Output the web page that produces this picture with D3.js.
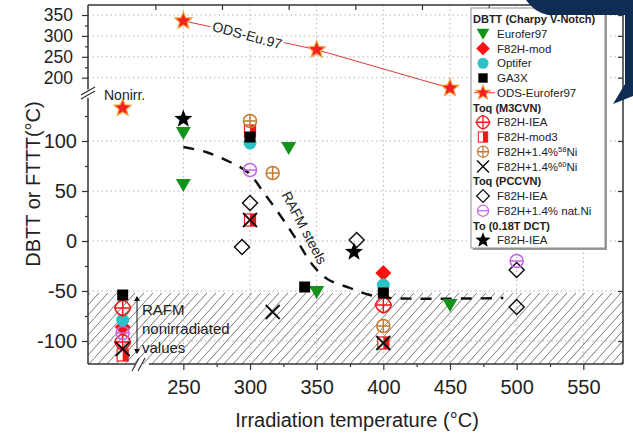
<html>
<head>
<script src="https://d3js.org/d3.v7.min.js"></script>
<style>
  body { margin: 0; background: #fff; }
  text { font-family: "Liberation Sans", Arial, sans-serif; fill: #222; }
</style>
</head>
<body>
<div id="vis"></div>
<script>
// ---- data ----
// "N" = nonirradiated column left of the axis break
const NONIRR_POS = 204.5;

const euroferT = [250, 250, 329, 350, 450];
const euroferV = [108, 56, 93, -51, -64];

const f82modT = [400, "N"];
const f82modV = [-32, -86];

const optiferT = [300, 400, "N"];
const optiferV = [98, -44, -79];

const ga3xT = [300, 341, 400, "N"];
const ga3xV = [104, -46, -52, -54];

const odsT = [250, 350, 450];          // upper part of the broken axis
const odsV = [336, 267, 175];
const odsNonirr = 133;

const ieaM3T = [400, "N", "N"];
const ieaM3V = [-64, -67, -101];

const mod3T = [300, 300, 400, "N"];
const mod3V = [110, 21, -102, -114];

const ni58T = [300, 317, 400];
const ni58V = [120, 68, -85];

const ni60T = [300, 317, 400, "N"];
const ni60V = [21, -71, -102, -108];

const ieaPcT = [300, 294, 380, 500, 500];
const ieaPcV = [38, -6, 1, -29, -66];

const natNiT = [300, 500, "N"];
const natNiV = [71, -20, -92];

const toT = [250, 378];
const toV = [122, -11];

// RAFM steels trend (dashed)
const curveT = [250, 267, 285, 299, 310, 323, 335, 347, 358, 375, 390, 405, 490];
const curveV = [94, 89, 79, 68, 49, 25, 1, -24, -38, -47, -54, -57, -57];

const hatchTop = -52;

const xTicks = [250, 300, 350, 400, 450, 500, 550];
const xMinor = [275, 325, 375, 425, 475, 525];
const topTicks = [229, 279, 329, 379, 429, 479, 529];
const yLoTicks = [-100, -50, 0, 50, 100];
const yLoMinor = [-75, -25, 25, 75, 125];
const yHiTicks = [200, 250, 300, 350];
const yHiMinor = [225, 275, 325];

// ---- layout ----
const L = 88, R = 623, T = 5, B = 364;

const svg = d3.select("#vis").append("svg")
  .attr("width", 633).attr("height", 433);

const x = d3.scaleLinear().domain([178.5, 579.75]).range([L, R]);
const yLo = d3.scaleLinear().domain([-123, 143]).range([B, 98]);
const yHi = d3.scaleLinear().domain([172, 374]).range([89.4, T]);
const yPos = v => v >= 160 ? yHi(v) : yLo(v);
const xPos = t => t === "N" ? x(NONIRR_POS) : x(t);
const plain = d => String(d);   // hyphen-minus like the original

// hatched band (below the nonirradiated level)
const hTop = yLo(hatchTop), hH = B - hTop;
svg.append("defs").append("clipPath").attr("id", "hclip")
  .append("rect").attr("x", L).attr("y", hTop).attr("width", R - L).attr("height", hH);
const hatch = svg.append("g").attr("clip-path", "url(#hclip)")
  .attr("stroke", "#6a6a6a").attr("stroke-width", 0.9);
d3.range(L - hH, R, 9).forEach(x0 => hatch.append("line")
  .attr("x1", x0).attr("y1", B).attr("x2", x0 + hH * 0.9).attr("y2", hTop));

// grid
const grid = svg.append("g").attr("stroke", "#b5b5b5").attr("stroke-width", 1)
  .attr("stroke-dasharray", "1.5,3");
xTicks.forEach(t => grid.append("line")
  .attr("x1", x(t)).attr("x2", x(t)).attr("y1", T).attr("y2", B));
yLoTicks.forEach(v => grid.append("line")
  .attr("x1", L).attr("x2", R).attr("y1", yLo(v)).attr("y2", yLo(v)));
yHiTicks.forEach(v => grid.append("line")
  .attr("x1", L).attr("x2", R).attr("y1", yHi(v)).attr("y2", yHi(v)));

// axes
function styleAxis(g, fs) {
  g.select(".domain").remove();
  g.selectAll(".tick line").attr("stroke", "#333").attr("stroke-width", 1.2);
  g.selectAll("text").style("font-size", fs + "px").attr("fill", "#222")
    .style("font-family", "'Liberation Sans', Arial, sans-serif");
}

svg.append("g").attr("transform", "translate(0," + B + ")")
  .call(d3.axisBottom(x).tickValues(xTicks).tickSize(6).tickPadding(10).tickFormat(plain))
  .call(g => styleAxis(g, 20));
svg.append("g").attr("transform", "translate(0," + B + ")")
  .call(d3.axisBottom(x).tickValues(xMinor).tickSize(3).tickFormat(""))
  .call(g => styleAxis(g, 10));
svg.append("g").attr("transform", "translate(0," + T + ")")
  .call(d3.axisBottom(x).tickValues(topTicks).tickSize(5).tickFormat(""))
  .call(g => styleAxis(g, 10));

svg.append("g").attr("transform", "translate(" + L + ",0)")
  .call(d3.axisLeft(yLo).tickValues(yLoTicks).tickSize(6).tickPadding(5).tickFormat(plain))
  .call(g => styleAxis(g, 20));
svg.append("g").attr("transform", "translate(" + L + ",0)")
  .call(d3.axisLeft(yLo).tickValues(yLoMinor).tickSize(3).tickFormat(""))
  .call(g => styleAxis(g, 10));
svg.append("g").attr("transform", "translate(" + L + ",0)")
  .call(d3.axisLeft(yHi).tickValues(yHiTicks).tickSize(6).tickPadding(9).tickFormat(plain))
  .call(g => styleAxis(g, 17.5));
svg.append("g").attr("transform", "translate(" + L + ",0)")
  .call(d3.axisLeft(yHi).tickValues(yHiMinor).tickSize(3).tickFormat(""))
  .call(g => styleAxis(g, 10));
svg.append("g").attr("transform", "translate(" + R + ",0)")
  .call(d3.axisLeft(yLo).tickValues(yLoTicks).tickSize(5).tickFormat(""))
  .call(g => styleAxis(g, 10));
svg.append("g").attr("transform", "translate(" + R + ",0)")
  .call(d3.axisLeft(yHi).tickValues(yHiTicks).tickSize(5).tickFormat(""))
  .call(g => styleAxis(g, 10));

// frame lines with breaks
const frame = svg.append("g").attr("stroke", "#333").attr("stroke-width", 1.5).attr("fill", "none");
frame.append("line").attr("x1", L).attr("x2", R).attr("y1", T).attr("y2", T);
frame.append("line").attr("x1", R).attr("x2", R).attr("y1", T).attr("y2", B);
frame.append("line").attr("x1", L).attr("x2", L).attr("y1", T).attr("y2", yHi(172));
frame.append("line").attr("x1", L).attr("x2", L).attr("y1", yLo(143)).attr("y2", B);
frame.append("line").attr("x1", L).attr("x2", 135).attr("y1", B).attr("y2", B);
frame.append("line").attr("x1", 149).attr("x2", R).attr("y1", B).attr("y2", B);
// break marks
frame.append("path").attr("d", "M81,95 L95,87 M81,99 L95,91").attr("stroke-width", 1.2);
frame.append("path").attr("d", "M132,371 L139,358 M138,371 L145,358").attr("stroke-width", 1.2);

// RAFM steels trend
svg.append("path")
  .datum(curveT.map((t, i) => [t, curveV[i]]))
  .attr("d", d3.line().x(d => x(d[0])).y(d => yLo(d[1])).curve(d3.curveCatmullRom))
  .attr("fill", "none").attr("stroke", "#111").attr("stroke-width", 2.4)
  .attr("stroke-dasharray", "11,9");

svg.append("text")
  .attr("transform", "translate(300,230) rotate(62)")
  .attr("text-anchor", "middle")
  .style("font-size", "14px").text("RAFM steels");

// ODS line in the upper part
svg.append("path")
  .datum(odsT.map((t, i) => [t, odsV[i]]))
  .attr("d", d3.line().x(d => x(d[0])).y(d => yHi(d[1])))
  .attr("fill", "none").attr("stroke", "#e03a3a").attr("stroke-width", 1);

svg.append("text")
  .attr("transform", "translate(246,40) rotate(15)")
  .attr("text-anchor", "middle")
  .attr("stroke", "#fff").attr("stroke-width", 5).attr("paint-order", "stroke")
  .style("font-size", "14px").text("ODS-Eu.97");

// ---- markers ----
function starPath(ro, ri) {
  const p = [];
  for (let i = 0; i < 10; i++) {
    const a = -Math.PI / 2 + i * Math.PI / 5, r = i % 2 ? ri : ro;
    p.push([r * Math.cos(a), r * Math.sin(a)]);
  }
  return "M" + p.map(d => d.join(",")).join("L") + "Z";
}

function marker(g, type, cx, cy) {
  const m = g.append("g").attr("transform", "translate(" + cx + "," + cy + ")");
  if (type === "tri") {
    m.append("path").attr("d", "M-7.5,-6 L7.5,-6 L0,7 Z").attr("fill", "#13931a");
  } else if (type === "dia") {
    m.append("path").attr("d", "M0,-8 L8,0 L0,8 L-8,0 Z").attr("fill", "#ff1010");
  } else if (type === "circ") {
    m.append("circle").attr("r", 6.5).attr("fill", "#2cc3c6");
  } else if (type === "sq") {
    m.append("rect").attr("x", -5.5).attr("y", -5.5).attr("width", 11).attr("height", 11).attr("fill", "#000");
  } else if (type === "ods") {
    m.append("path").attr("d", starPath(9, 4)).attr("fill", "#f22020")
      .attr("stroke", "#f3a33a").attr("stroke-width", 1.2);
  } else if (type === "iea") {
    m.append("path").attr("d", "M0,-8 Q6,-6 8,0 Q6,6 0,8 Q-6,6 -8,0 Q-6,-6 0,-8 Z")
      .attr("fill", "none").attr("stroke", "#f01818").attr("stroke-width", 1.5);
    m.append("path").attr("d", "M-8,0 L8,0 M0,-8 L0,8").attr("stroke", "#f01818").attr("stroke-width", 1.5);
  } else if (type === "mod3") {
    m.append("rect").attr("x", -5.5).attr("y", -6).attr("width", 11).attr("height", 12)
      .attr("fill", "#fff").attr("stroke", "#f01818").attr("stroke-width", 1.2);
    m.append("rect").attr("x", 0).attr("y", -6).attr("width", 5.5).attr("height", 12).attr("fill", "#f01818");
  } else if (type === "ni58") {
    m.append("circle").attr("r", 6.5).attr("fill", "none").attr("stroke", "#c47a30").attr("stroke-width", 1.5);
    m.append("path").attr("d", "M-6.5,0 L6.5,0 M0,-6.5 L0,6.5").attr("stroke", "#c47a30").attr("stroke-width", 1.5);
  } else if (type === "ni60") {
    m.append("path").attr("d", "M-7,-7 L7,7 M-7,7 L7,-7").attr("stroke", "#111").attr("stroke-width", 1.8);
  } else if (type === "pdia") {
    m.append("path").attr("d", "M0,-7.5 L7.5,0 L0,7.5 L-7.5,0 Z")
      .attr("fill", "none").attr("stroke", "#111").attr("stroke-width", 1.5);
  } else if (type === "natni") {
    m.append("circle").attr("r", 6.5).attr("fill", "none").attr("stroke", "#c463e6").attr("stroke-width", 1.5);
    m.append("path").attr("d", "M-6.5,0 L6.5,0").attr("stroke", "#c463e6").attr("stroke-width", 1.5);
  } else if (type === "star") {
    m.append("path").attr("d", starPath(9.5, 4)).attr("fill", "#000");
  }
  return m;
}

const pts = svg.append("g");
function series(type, ts, vs) {
  ts.forEach((t, i) => marker(pts, type, xPos(t), yPos(vs[i])));
}
series("tri", euroferT, euroferV);
series("dia", f82modT, f82modV);
series("circ", optiferT, optiferV);
series("ods", odsT, odsV);
series("ods", ["N"], [odsNonirr]);
series("iea", ieaM3T, ieaM3V);
series("mod3", mod3T, mod3V);
series("sq", ga3xT, ga3xV);
series("ni58", ni58T, ni58V);
series("ni60", ni60T, ni60V);
series("pdia", ieaPcT, ieaPcV);
series("natni", natNiT, natNiV);
series("star", toT, toV);

// annotations
svg.append("text").attr("x", 104).attr("y", 100).style("font-size", "14px").text("Nonirr.");

const arrow = svg.append("g").attr("stroke", "#111").attr("stroke-width", 1).attr("fill", "#111");
arrow.append("line").attr("x1", 137).attr("x2", 137).attr("y1", yLo(-56)).attr("y2", yLo(-112));
arrow.append("path").attr("d", d3.line()([[134, yLo(-60)], [137, yLo(-55)], [140, yLo(-60)]])).attr("stroke", "none");
arrow.append("path").attr("d", d3.line()([[134, yLo(-108)], [137, yLo(-113)], [140, yLo(-108)]])).attr("stroke", "none");

const rafmLines = ["RAFM", "nonirradiated", "values"];
rafmLines.forEach((s, i) => svg.append("text")
  .attr("x", 142).attr("y", 315 + i * 19).style("font-size", "15px").text(s));

// axis titles
svg.append("text").attr("x", 357).attr("y", 427).attr("text-anchor", "middle")
  .style("font-size", "20px").text("Irradiation temperature (°C)");
svg.append("text").attr("transform", "translate(40,184) rotate(-90)").attr("text-anchor", "middle")
  .style("font-size", "20px").text("DBTT or FTTT(°C)");

// ---- legend ----
const legendRows = [
  { head: "DBTT (Charpy V-Notch)" },
  { type: "tri", label: "Eurofer97" },
  { type: "dia", label: "F82H-mod" },
  { type: "circ", label: "Optifer" },
  { type: "sq", label: "GA3X" },
  { type: "ods", label: "ODS-Eurofer97" },
  { head: "Toq (M3CVN)" },
  { type: "iea", label: "F82H-IEA" },
  { type: "mod3", label: "F82H-mod3" },
  { type: "ni58", label: "F82H+1.4%", sup: "58", tail: "Ni" },
  { type: "ni60", label: "F82H+1.4%", sup: "60", tail: "Ni" },
  { head: "Toq (PCCVN)" },
  { type: "pdia", label: "F82H-IEA" },
  { type: "natni", label: "F82H+1.4% nat.Ni" },
  { head: "To (0.18T DCT)" },
  { type: "star", label: "F82H-IEA" }
];

const lg = svg.append("g");
lg.append("rect").attr("x", 473).attr("y", 10).attr("width", 134).attr("height", 240).attr("fill", "#9a9a9a");
lg.append("rect").attr("x", 471).attr("y", 8).attr("width", 134).attr("height", 240)
  .attr("fill", "#fff").attr("stroke", "#8c8c8c").attr("stroke-width", 1);

legendRows.forEach((r, i) => {
  const cy = 19 + i * 14.75;
  if (r.head) {
    lg.append("text").attr("x", 473).attr("y", cy + 4).style("font-size", "11px")
      .style("font-weight", "bold").text(r.head);
    return;
  }
  if (r.type === "ods") {
    lg.append("line").attr("x1", 474).attr("x2", 495).attr("y1", cy).attr("y2", cy)
      .attr("stroke", "#e03a3a").attr("stroke-width", 1);
  }
  const m = marker(lg, r.type, 483, cy);
  m.attr("transform", "translate(483," + cy + ") scale(0.85)");
  const t = lg.append("text").attr("x", 497).attr("y", cy + 4).style("font-size", "11.5px").text(r.label);
  if (r.sup) {
    t.append("tspan").attr("dy", -4).style("font-size", "7.5px").text(r.sup);
    t.append("tspan").attr("dy", 4).text(r.tail);
  }
});

// dark corner decoration on the page
svg.append("path")
  .attr("d", "M526,0 L633,0 L633,96 L613,104 L625,84 L625,15 L548,15 Q534,12 526,0 Z")
  .attr("fill", "#0f2d52");
</script>
</body>
</html>
